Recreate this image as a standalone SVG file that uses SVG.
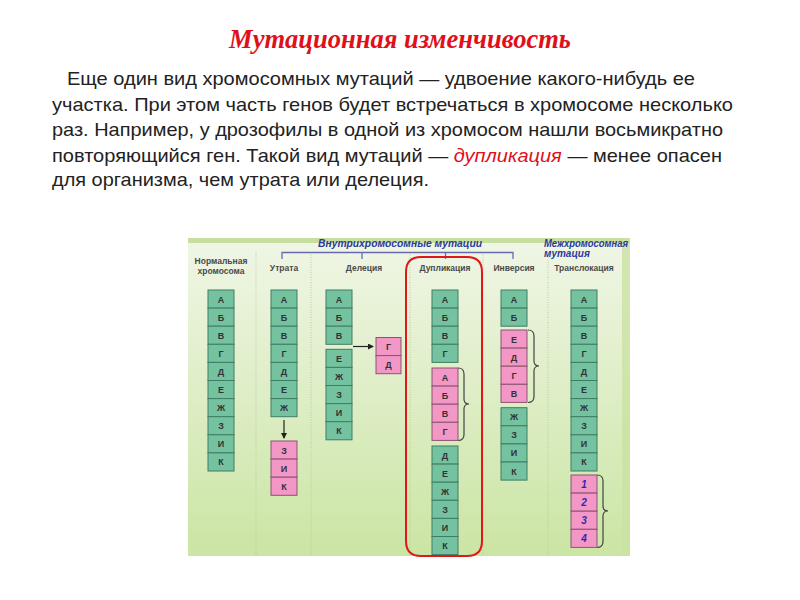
<svg xmlns="http://www.w3.org/2000/svg" width="800" height="600" viewBox="0 0 800 600">
<style>
.t{font-family:"Liberation Sans",Arial,sans-serif;font-size:19px;fill:#222}
.hd{font-family:"Liberation Sans",Arial,sans-serif;font-size:8.5px;font-weight:bold;fill:#4a4a4a;text-anchor:middle}
.bl{font-family:"Liberation Sans",Arial,sans-serif;font-size:10px;font-weight:bold;font-style:italic;fill:#2b3a9c}
.g rect{fill:#74c29f;stroke:#3f7d64;stroke-width:1}
.p rect{fill:#f397c6;stroke:#8a5470;stroke-width:1}
.c text{font-family:"Liberation Sans",Arial,sans-serif;font-size:9px;font-weight:bold;fill:#333;text-anchor:middle}
.c text.n{fill:#2b2bb0;font-style:italic;font-size:10px}
.dv{stroke:#b3cf9b;stroke-width:1;stroke-dasharray:1 1.5}
.br{fill:none;stroke:#444;stroke-width:1.2}
.ar{stroke:#222;stroke-width:1.2;marker-end:url(#ah)}
</style>
<defs>
<linearGradient id="bg" x1="0" y1="0" x2="0" y2="1">
<stop offset="0" stop-color="#f0f6e6"/>
<stop offset="1" stop-color="#cbe5a4"/>
</linearGradient>
<marker id="ah" markerWidth="6" markerHeight="6" refX="5" refY="3" orient="auto" markerUnits="userSpaceOnUse">
<path d="M0,0 L6,3 L0,6 z" fill="#222"/>
</marker>
</defs>
<rect width="800" height="600" fill="#fff"/>
<text x="400" y="48" text-anchor="middle" font-family="'Liberation Serif','Times New Roman',serif" font-size="26.5" font-weight="bold" font-style="italic" fill="#e0101a">Мутационная изменчивость</text>
<g id="paragraph">
<text class="t" x="67" y="85" textLength="628" lengthAdjust="spacingAndGlyphs">Еще один вид хромосомных мутаций — удвоение какого-нибудь ее</text>
<text class="t" x="52" y="110.5" textLength="681" lengthAdjust="spacingAndGlyphs">участка. При этом часть генов будет встречаться в хромосоме несколько</text>
<text class="t" x="52" y="136" textLength="671" lengthAdjust="spacingAndGlyphs">раз. Например, у дрозофилы в одной из хромосом нашли восьмикратно</text>
<text class="t" x="52" y="161.5" textLength="670" lengthAdjust="spacingAndGlyphs">повторяющийся ген. Такой вид мутаций — <tspan fill="#e0101a" font-style="italic">дупликация</tspan> — менее опасен</text>
<text class="t" x="52" y="186" textLength="377" lengthAdjust="spacingAndGlyphs">для организма, чем утрата или делеция.</text>
</g>
<g id="panel">
<rect x="188" y="238" width="442" height="318" fill="url(#bg)"/>
<rect x="188" y="238" width="442" height="5" fill="#c6df9e"/>
<rect x="622" y="238" width="8" height="318" fill="#c9e2a2" opacity="0.8"/>
<line class="dv" x1="256" y1="252" x2="256" y2="556"/>
<line class="dv" x1="311" y1="252" x2="311" y2="556"/>
<line class="dv" x1="410" y1="252" x2="410" y2="556"/>
<line class="dv" x1="483" y1="252" x2="483" y2="556"/>
<line class="dv" x1="548" y1="252" x2="548" y2="556"/>
<path d="M282,259 V252.5 H513 V259 M362,252.5 V259 M445.5,252.5 V259" fill="none" stroke="#6868b0" stroke-width="1.3"/>
<text class="bl" x="318" y="246.5" textLength="164" lengthAdjust="spacingAndGlyphs">Внутрихромосомные мутации</text>
<text class="bl" x="544" y="246.5" textLength="84" lengthAdjust="spacingAndGlyphs">Межхромосомная</text>
<text class="bl" x="544" y="257">мутация</text>
<text class="hd" x="221" y="264">Нормальная</text>
<text class="hd" x="221" y="274">хромосома</text>
<text class="hd" x="284" y="270.5">Утрата</text>
<text class="hd" x="364" y="270.5">Делеция</text>
<text class="hd" x="445" y="270.5">Дупликация</text>
<text class="hd" x="514" y="270.5">Инверсия</text>
<text class="hd" x="584" y="270.5">Транслокация</text>
</g>
<g id="connectors">
<line class="ar" x1="284" y1="420" x2="284" y2="438"/>
<line class="ar" x1="353" y1="346.5" x2="373" y2="346.5"/>
<path class="br" d="M458,368 Q464,368 464,374 V399 Q464,404 469,404 Q464,404 464,409 V434.5 Q464,440.5 458,440.5"/>
<path class="br" d="M528,330 Q534,330 534,336 V361 Q534,366 539,366 Q534,366 534,371 V396.5 Q534,402.5 528,402.5"/>
<path class="br" d="M597,475 Q603,475 603,481 V506 Q603,511 608,511 Q603,511 603,516 V541.5 Q603,547.5 597,547.5"/>
<path d="M406,272 Q406,257 421,257 H467 Q482,257 482,272 V541 Q482,556 467,556 H421 Q406,556 406,541 Z" fill="none" stroke="#e01818" stroke-width="2"/>
</g>
<g id="normal" class="c g">
<rect x="208" y="290" width="26" height="18.1"/><text x="221" y="302.5">А</text>
<rect x="208" y="308.1" width="26" height="18.1"/><text x="221" y="320.6">Б</text>
<rect x="208" y="326.2" width="26" height="18.1"/><text x="221" y="338.7">В</text>
<rect x="208" y="344.3" width="26" height="18.1"/><text x="221" y="356.8">Г</text>
<rect x="208" y="362.4" width="26" height="18.1"/><text x="221" y="374.9">Д</text>
<rect x="208" y="380.5" width="26" height="18.1"/><text x="221" y="393">Е</text>
<rect x="208" y="398.6" width="26" height="18.1"/><text x="221" y="411.1">Ж</text>
<rect x="208" y="416.7" width="26" height="18.1"/><text x="221" y="429.2">З</text>
<rect x="208" y="434.8" width="26" height="18.1"/><text x="221" y="447.3">И</text>
<rect x="208" y="452.9" width="26" height="18.1"/><text x="221" y="465.4">К</text>
</g>
<g id="loss" class="c g">
<rect x="271" y="290" width="26" height="18.1"/><text x="284" y="302.5">А</text>
<rect x="271" y="308.1" width="26" height="18.1"/><text x="284" y="320.6">Б</text>
<rect x="271" y="326.2" width="26" height="18.1"/><text x="284" y="338.7">В</text>
<rect x="271" y="344.3" width="26" height="18.1"/><text x="284" y="356.8">Г</text>
<rect x="271" y="362.4" width="26" height="18.1"/><text x="284" y="374.9">Д</text>
<rect x="271" y="380.5" width="26" height="18.1"/><text x="284" y="393">Е</text>
<rect x="271" y="398.6" width="26" height="18.1"/><text x="284" y="411.1">Ж</text>
</g>
<g id="loss-fragment" class="c p">
<rect x="271" y="441" width="26" height="18.1"/><text x="284" y="453.5">З</text>
<rect x="271" y="459.1" width="26" height="18.1"/><text x="284" y="471.6">И</text>
<rect x="271" y="477.2" width="26" height="18.1"/><text x="284" y="489.7">К</text>
</g>
<g id="deletion" class="c g">
<rect x="326" y="290" width="26" height="18.1"/><text x="339" y="302.5">А</text>
<rect x="326" y="308.1" width="26" height="18.1"/><text x="339" y="320.6">Б</text>
<rect x="326" y="326.2" width="26" height="18.1"/><text x="339" y="338.7">В</text>
<rect x="326" y="349.3" width="26" height="18.1"/><text x="339" y="361.8">Е</text>
<rect x="326" y="367.4" width="26" height="18.1"/><text x="339" y="379.9">Ж</text>
<rect x="326" y="385.5" width="26" height="18.1"/><text x="339" y="398">З</text>
<rect x="326" y="403.6" width="26" height="18.1"/><text x="339" y="416.1">И</text>
<rect x="326" y="421.7" width="26" height="18.1"/><text x="339" y="434.2">К</text>
</g>
<g id="deletion-fragment" class="c p">
<rect x="376" y="337.5" width="25" height="18.1"/><text x="388.5" y="350">Г</text>
<rect x="376" y="355.6" width="25" height="18.1"/><text x="388.5" y="368.1">Д</text>
</g>
<g id="duplication" class="c g">
<rect x="432" y="290" width="26" height="18.1"/><text x="445" y="302.5">А</text>
<rect x="432" y="308.1" width="26" height="18.1"/><text x="445" y="320.6">Б</text>
<rect x="432" y="326.2" width="26" height="18.1"/><text x="445" y="338.7">В</text>
<rect x="432" y="344.3" width="26" height="18.1"/><text x="445" y="356.8">Г</text>
<rect x="432" y="446" width="26" height="18.1"/><text x="445" y="458.5">Д</text>
<rect x="432" y="464.1" width="26" height="18.1"/><text x="445" y="476.6">Е</text>
<rect x="432" y="482.2" width="26" height="18.1"/><text x="445" y="494.7">Ж</text>
<rect x="432" y="500.3" width="26" height="18.1"/><text x="445" y="512.8">З</text>
<rect x="432" y="518.4" width="26" height="18.1"/><text x="445" y="530.9">И</text>
<rect x="432" y="536.5" width="26" height="18.1"/><text x="445" y="549">К</text>
</g>
<g id="duplication-copy" class="c p">
<rect x="432" y="368" width="26" height="18.1"/><text x="445" y="380.5">А</text>
<rect x="432" y="386.1" width="26" height="18.1"/><text x="445" y="398.6">Б</text>
<rect x="432" y="404.2" width="26" height="18.1"/><text x="445" y="416.7">В</text>
<rect x="432" y="422.3" width="26" height="18.1"/><text x="445" y="434.8">Г</text>
</g>
<g id="inversion" class="c g">
<rect x="501" y="290" width="26" height="18.1"/><text x="514" y="302.5">А</text>
<rect x="501" y="308.1" width="26" height="18.1"/><text x="514" y="320.6">Б</text>
<rect x="501" y="407.7" width="26" height="18.1"/><text x="514" y="420.2">Ж</text>
<rect x="501" y="425.8" width="26" height="18.1"/><text x="514" y="438.3">З</text>
<rect x="501" y="443.9" width="26" height="18.1"/><text x="514" y="456.4">И</text>
<rect x="501" y="462" width="26" height="18.1"/><text x="514" y="474.5">К</text>
</g>
<g id="inversion-segment" class="c p">
<rect x="501" y="330" width="26" height="18.1"/><text x="514" y="342.5">Е</text>
<rect x="501" y="348.1" width="26" height="18.1"/><text x="514" y="360.6">Д</text>
<rect x="501" y="366.2" width="26" height="18.1"/><text x="514" y="378.7">Г</text>
<rect x="501" y="384.3" width="26" height="18.1"/><text x="514" y="396.8">В</text>
</g>
<g id="translocation" class="c g">
<rect x="571" y="290" width="26" height="18.1"/><text x="584" y="302.5">А</text>
<rect x="571" y="308.1" width="26" height="18.1"/><text x="584" y="320.6">Б</text>
<rect x="571" y="326.2" width="26" height="18.1"/><text x="584" y="338.7">В</text>
<rect x="571" y="344.3" width="26" height="18.1"/><text x="584" y="356.8">Г</text>
<rect x="571" y="362.4" width="26" height="18.1"/><text x="584" y="374.9">Д</text>
<rect x="571" y="380.5" width="26" height="18.1"/><text x="584" y="393">Е</text>
<rect x="571" y="398.6" width="26" height="18.1"/><text x="584" y="411.1">Ж</text>
<rect x="571" y="416.7" width="26" height="18.1"/><text x="584" y="429.2">З</text>
<rect x="571" y="434.8" width="26" height="18.1"/><text x="584" y="447.3">И</text>
<rect x="571" y="452.9" width="26" height="18.1"/><text x="584" y="465.4">К</text>
</g>
<g id="translocation-fragment" class="c p">
<rect x="571" y="475" width="26" height="18.1"/><text class="n" x="584" y="488">1</text>
<rect x="571" y="493.1" width="26" height="18.1"/><text class="n" x="584" y="506.1">2</text>
<rect x="571" y="511.2" width="26" height="18.1"/><text class="n" x="584" y="524.2">3</text>
<rect x="571" y="529.3" width="26" height="18.1"/><text class="n" x="584" y="542.3">4</text>
</g>
</svg>
